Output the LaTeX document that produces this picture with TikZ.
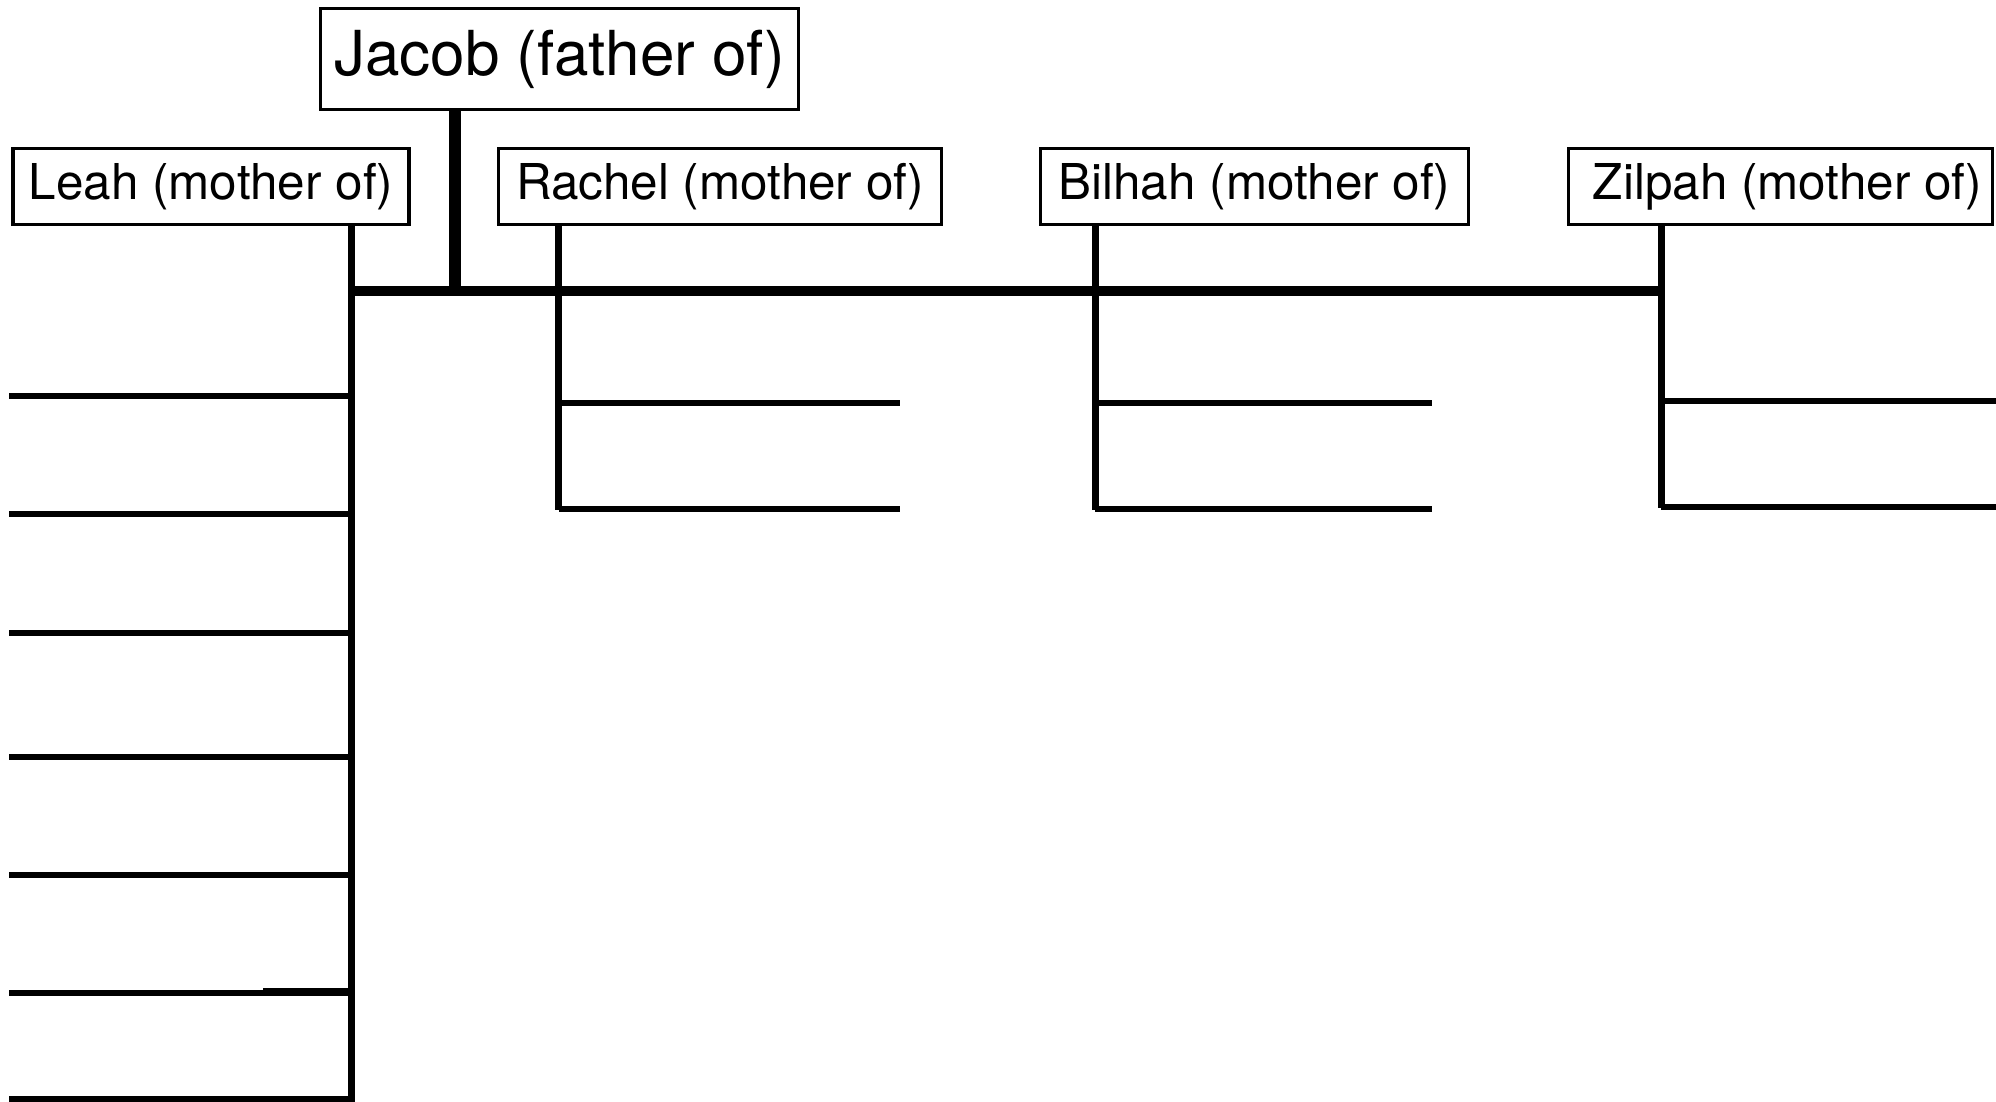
\documentclass[tikz,border=0pt]{standalone}
\usepackage{fontspec}
\setmainfont{TeX Gyre Heros}
\begin{document}
\begin{tikzpicture}[x=0.5pt,y=-0.5pt,
  person/.style={draw, line width=1.6pt, inner sep=0pt, minimum height=38pt, fill=white,
    font=\fontsize{24.7pt}{29pt}\selectfont},
  fatherbox/.style={person, minimum height=50.5pt, font=\fontsize{31pt}{36pt}\selectfont},
  trunk/.style={line width=5pt},
  stem/.style={line width=6.2pt},
  vline/.style={line width=3.5pt},
  child/.style={line width=2.9pt}]
\useasboundingbox (0,0) rectangle (1996,1102);
\fill[white] (0,0) rectangle (1996,1102);

% nodes
\node[fatherbox, minimum width=239pt] (jacob) at (559.5,58.9) {Jacob (father of)};
\node[person, minimum width=198pt] (leah) at (211,186.5) {Leah (mother of)};
\node[person, minimum width=221.5pt] (rachel) at (720,186.5) {Rachel (mother of)};
\node[person, minimum width=214pt] (bilhah) at (1254.5,186.5) {Bilhah (mother of)};
\node[person, minimum width=212pt] (zilpah) at (1780.5,186.5) {\hspace*{7pt}Zilpah (mother of)};

% junction coordinates
\coordinate (jj) at (455,291);
\coordinate (lj) at (351.7,291);
\coordinate (rj) at (558.5,291);
\coordinate (bj) at (1095,291);
\coordinate (zj) at (1661,291);
\coordinate (lbot) at (351.7,1102);

% Jacob stem and main trunk
\draw[stem] (jacob.south -| jj) -- (jj);
\draw[trunk] (lj) -- (zj);

% Leah
\draw[vline] (leah.south -| lj) -- (lbot);
\foreach \y [count=\i] in {396,514,633,757,875,993,1099}{
  \coordinate (lc\i) at (9,\y);
  \draw[child] (lc\i) -- (lc\i -| lj);
}
\coordinate (lcx) at (263,991);
\draw[child] (lcx) -- (lcx -| lj);

% Rachel
\coordinate (rb) at (558.5,510);
\draw[vline] (rachel.south -| rj) -- (rb);
\coordinate (rc1) at (900,402.7);
\coordinate (rc2) at (900,509);
\draw[child] (rc1 -| rj) -- (rc1);
\draw[child] (rc2 -| rj) -- (rc2);

% Bilhah
\coordinate (bb) at (1095,510);
\draw[vline] (bilhah.south -| bj) -- (bb);
\coordinate (bc1) at (1432,402.7);
\coordinate (bc2) at (1432,509);
\draw[child] (bc1 -| bj) -- (bc1);
\draw[child] (bc2 -| bj) -- (bc2);

% Zilpah
\coordinate (zb) at (1661,508);
\draw[vline] (zilpah.south -| zj) -- (zb);
\coordinate (zc1) at (1996,401);
\coordinate (zc2) at (1996,506.7);
\draw[child] (zc1 -| zj) -- (zc1);
\draw[child] (zc2 -| zj) -- (zc2);
\end{tikzpicture}
\end{document}
